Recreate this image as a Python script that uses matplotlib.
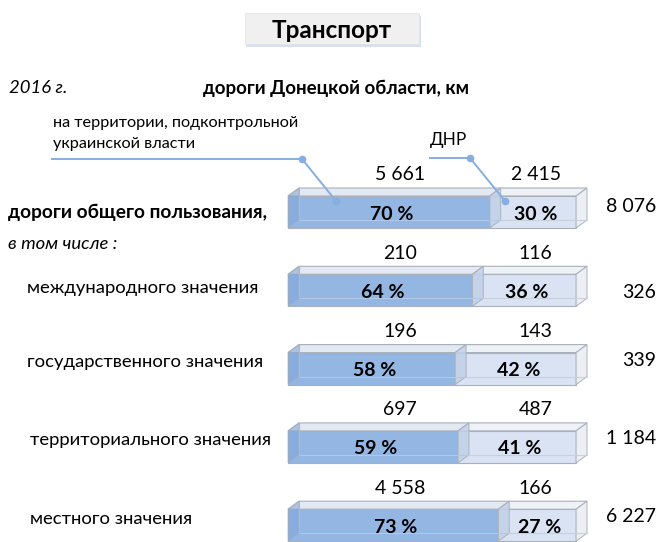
import matplotlib
matplotlib.use("Agg")
import matplotlib.pyplot as plt
from matplotlib.patches import Polygon, Rectangle

plt.rcParams['font.family'] = ['Lato', 'DejaVu Sans']

# ---------------- data ----------------
categories = ["дороги общего пользования,", "международного значения",
              "государственного значения", "территориального значения",
              "местного значения"]
ukr_km = [5661, 210, 196, 697, 4558]
dnr_km = [2415, 116, 143, 487, 166]
ukr_pct = [70, 64, 58, 59, 73]
dnr_pct = [30, 36, 42, 41, 27]
totals = ["8 076", "326", "339", "1 184", "6 227"]
ukr_lbl = ["5 661", "210", "196", "697", "4 558"]
dnr_lbl = ["2 415", "116", "143", "487", "166"]

W, H = 659, 542
fig = plt.figure(figsize=(W / 100, H / 100), dpi=100)
fig.patch.set_facecolor("white")


def fx(px):
    return px / W


def fy(py):
    return 1 - py / H


# axes covering the full figure: x in %, y = category index
ax = fig.add_axes([0, 0, 1, 1])
px_per_pct = 2.88
x0_px = 288
ax.set_xlim(-x0_px / px_per_pct, (W - x0_px) / px_per_pct)
y0_px, dy_px = 212, 78.3
ax.set_ylim((H - y0_px) / dy_px, -y0_px / dy_px)
ax.axis("off")

bh = 32 / dy_px          # bar height
ddx = 11 / px_per_pct    # depth in x (pct)
ddy = -8 / dy_px         # depth in y (index)

blue_front = "#93b6e3"
blue_top = "#e3e9f2"
blue_side = "#c2d1e8"
blue_left = "#7fa5da"
lite_front = "#d9e3f4"
lite_top = "#eef1f6"
lite_side = "#e9edf3"
edge = "#a9b0ba"

ypos = list(range(len(categories)))
NUM_FS = 14


def draw_box(x_start, width, y, top, side, z):
    yt = y - bh / 2
    yb = y + bh / 2
    ax.add_patch(Polygon([(x_start, yt), (x_start + width, yt),
                          (x_start + width + ddx, yt + ddy), (x_start + ddx, yt + ddy)],
                         closed=True, facecolor=top, edgecolor=edge, lw=0.8, zorder=z))
    ax.add_patch(Polygon([(x_start + width, yt), (x_start + width + ddx, yt + ddy),
                          (x_start + width + ddx, yb + ddy), (x_start + width, yb)],
                         closed=True, facecolor=side, edgecolor=edge, lw=0.8,
                         alpha=0.85, zorder=z + 0.2))


for i, y in enumerate(ypos):
    u = ukr_pct[i]
    d = dnr_pct[i]
    # light (DNR) segment
    ax.barh(y, d, left=u, height=bh, color=lite_front, edgecolor=edge, lw=0.8, zorder=2)
    draw_box(u, d, y, lite_top, lite_side, 2.1)
    # blue (Ukraine-controlled) segment
    ax.barh(y, u, left=0, height=bh, color=blue_front, edgecolor=edge, lw=0.8, zorder=3)
    draw_box(0, u, y, blue_top, blue_side, 3.1)
    # left strip + back edges (transparent look)
    ax.add_patch(Polygon([(0, y - bh / 2), (ddx, y - bh / 2 + ddy), (ddx, y + bh / 2 + ddy),
                          (0, y + bh / 2)], closed=True, facecolor=blue_left,
                         edgecolor=edge, lw=0.8, alpha=0.55, zorder=3.5))
    ax.plot([ddx, u + ddx], [y + bh / 2 + ddy] * 2, color="#b3c8e6", lw=0.8, zorder=3.6)
    ax.plot([u + ddx, u + d + ddx], [y + bh / 2 + ddy] * 2, color="#c8d0dc", lw=0.8, zorder=3.6)
    ax.plot([ddx, ddx], [y - bh / 2 + ddy, y + bh / 2 + ddy], color="#a4bbdc", lw=0.8, zorder=3.6)
    # percentages
    ax.text(u / 2 + 1, y + 2 / dy_px, f"{u} %", ha="center", va="center", fontsize=NUM_FS,
            fontweight="bold", zorder=6)
    ax.text(u + d / 2 + 1, y + 2 / dy_px, f"{d} %", ha="center", va="center", fontsize=NUM_FS,
            fontweight="bold", zorder=6)
    # km labels above
    ax.text(38.9, y - 37 / dy_px, ukr_lbl[i], ha="center", va="center", fontsize=NUM_FS, zorder=6)
    ax.text(86.0, y - 37 / dy_px, dnr_lbl[i], ha="center", va="center", fontsize=NUM_FS, zorder=6)

# totals on the right
tot_y = [207, 293, 360, 439, 516]
tot_x = [631, 639, 639, 631, 631]
for t, xx, yy in zip(totals, tot_x, tot_y):
    fig.text(fx(xx), fy(yy), t, ha="center", va="center", fontsize=NUM_FS)

# category labels
fig.text(fx(8), fy(212), categories[0], ha="left", va="center", fontsize=13.8, fontweight="bold")
fig.text(fx(8), fy(244), "в том числе :", ha="left", va="center", fontsize=13.3, style="italic")
cat_xy = [(27, 288), (27, 362), (30, 440), (30, 519)]
for c, (xx, yy) in zip(categories[1:], cat_xy):
    fig.text(fx(xx), fy(yy), c, ha="left", va="center", fontsize=13.3)

# header texts
fig.text(fx(9), fy(88), "2016 г.", ha="left", va="center", fontsize=13.3, style="italic")
fig.text(fx(203), fy(88), "дороги Донецкой области, км", ha="left", va="center",
         fontsize=13.5, fontweight="bold")
fig.text(fx(53), fy(123), "на территории, подконтрольной", ha="left", va="center", fontsize=11.7)
fig.text(fx(53), fy(144), "украинской власти", ha="left", va="center", fontsize=11.7)
fig.text(fx(430), fy(140), "ДНР", ha="left", va="center", fontsize=12.5)

# leader lines
lc = "#86aee0"
fig.add_artist(plt.Line2D([fx(52), fx(302), fx(336)], [fy(159), fy(159), fy(201)],
                          color=lc, lw=1.4, zorder=8))
fig.add_artist(plt.Line2D([fx(302), fx(336)], [fy(159), fy(201)], color=lc, lw=0,
                          marker="o", markersize=4.5, zorder=8))
fig.add_artist(plt.Line2D([fx(430), fx(470), fx(505)], [fy(158), fy(158), fy(201)],
                          color=lc, lw=1.4, zorder=8))
fig.add_artist(plt.Line2D([fx(470), fx(505)], [fy(158), fy(201)], color=lc, lw=0,
                          marker="o", markersize=4.5, zorder=8))

# title box
fig.add_artist(Rectangle((fx(246), fy(47)), fx(421) - fx(246), fy(16) - fy(47),
                         transform=fig.transFigure, facecolor="#d6e0ee", edgecolor="none", zorder=1))
fig.add_artist(Rectangle((fx(245), fy(44)), fx(419) - fx(245), fy(13) - fy(44),
                         transform=fig.transFigure, facecolor="#f0f0f0", edgecolor="#e4e4e4",
                         lw=0.6, zorder=2))
fig.text(fx(332), fy(30), "Транспорт", ha="center", va="center", fontsize=17.5,
         fontweight="bold", zorder=3)

fig.savefig("out.png", dpi=100, facecolor="white")
